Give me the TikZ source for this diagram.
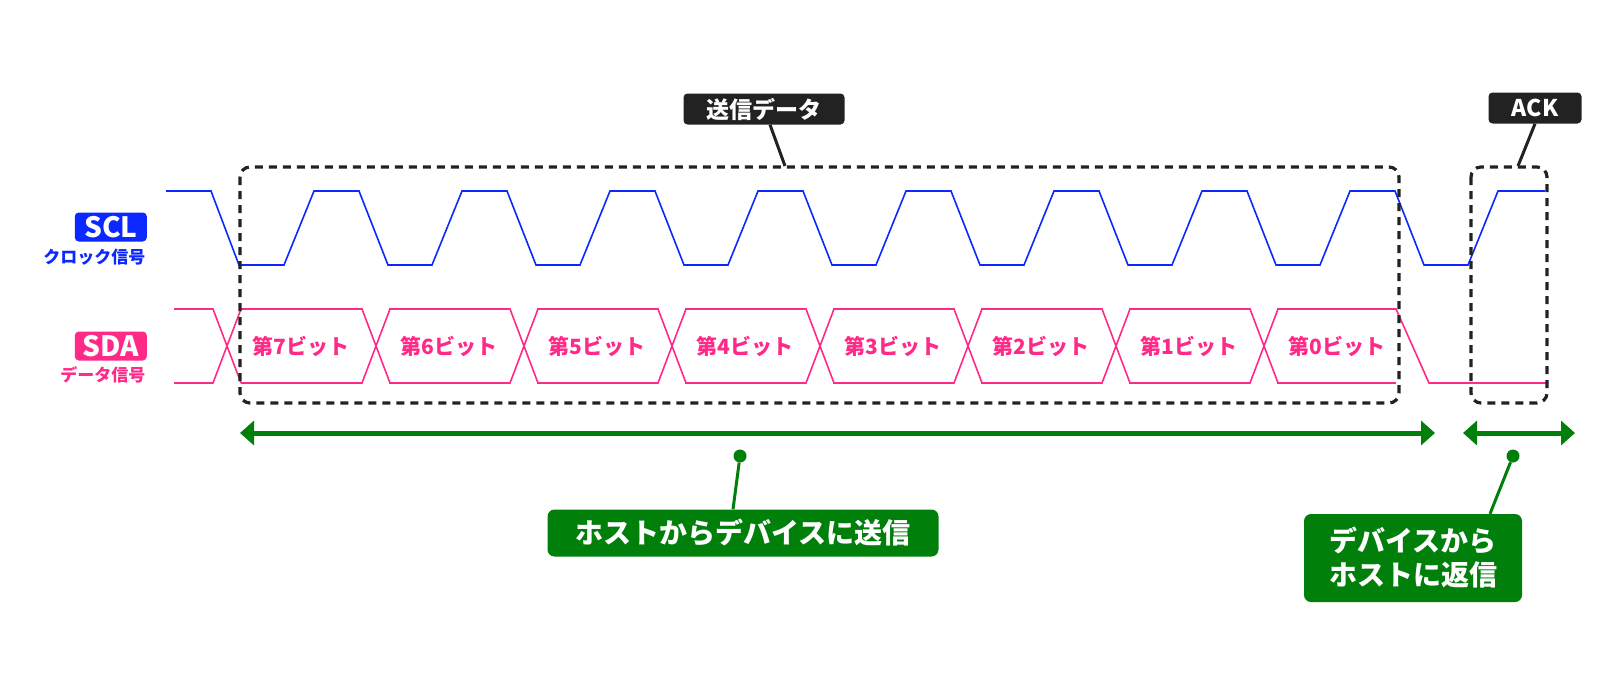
\documentclass[tikz,border=0pt]{standalone}
\usepackage{fontspec}
\setmainfont{Noto Sans CJK JP}
\usetikzlibrary{arrows.meta}
\definecolor{sclblue}{HTML}{0A28FF}
\definecolor{sdapink}{HTML}{FF2A88}
\definecolor{hostgreen}{HTML}{00800A}
\definecolor{tagdark}{HTML}{222222}
\tikzset{
  wave/.style={line width=1.6pt, line join=miter},
  group/.style={draw=tagdark, line width=3.2pt, dash pattern=on 8pt off 6pt, rounded corners=10pt},
  tag/.style={fill=tagdark, text=white, rounded corners=4pt, font=\fontsize{23}{26}\selectfont\bfseries},
  greenbox/.style={fill=hostgreen, text=white, rounded corners=7pt, font=\fontsize{28}{34}\selectfont\bfseries, align=center},
  flow/.style={hostgreen, line width=5pt, {Triangle[width=24pt,length=14pt]}-{Triangle[width=24pt,length=14pt]}},
  dot/.style={circle, fill=hostgreen, inner sep=0, minimum size=13pt},
  bitlabel/.style={text=sdapink, font=\fontsize{21}{24}\selectfont\bfseries},
  signame/.style={text=white, rounded corners=4pt, inner sep=2pt, minimum height=29pt, minimum width=72pt,
        font=\fontsize{28}{30}\selectfont\bfseries, anchor=east}
}
\begin{document}
\begin{tikzpicture}[x=1pt, y=-1pt]
  \useasboundingbox (0,0) rectangle (1624,696);

  % signal names
  \node (sclname) [signame, fill=sclblue] at (147,227) {SCL};
  \node (sclsub) [text=sclblue, font=\fontsize{17}{19}\selectfont\bfseries, anchor=east] at (149,257) {クロック信号};
  \node (sdaname) [signame, fill=sdapink] at (147,346) {SDA};
  \node (sdasub) [text=sdapink, font=\fontsize{17}{19}\selectfont\bfseries, anchor=east] at (149,375) {データ信号};

  % SCL waveform
  \draw [wave, sclblue] (166,191) -- (211,191) -- (239,265)
    \foreach \k in {0,...,7} { -- ({284+148*\k},265) -- ({314+148*\k},191) -- ({359+148*\k},191) -- ({388+148*\k},265) }
    -- (1468,265) -- (1498,191) -- (1545,191);

  % SDA waveform
  \draw [wave, sdapink] (174,309) -- (213,309) -- (241,383);
  \draw [wave, sdapink] (174,383) -- (213,383) -- (241,309);
  \foreach \k/\b in {0/7,1/6,2/5,3/4,4/3,5/2,6/1} {
    \draw [wave, sdapink] ({241+148*\k},309) -- ({362+148*\k},309) -- ({390+148*\k},383);
    \draw [wave, sdapink] ({241+148*\k},383) -- ({362+148*\k},383) -- ({390+148*\k},309);
    \node (bit\b) [bitlabel] at ({301+148*\k},346) {第\b ビット};
  }
  \draw [wave, sdapink] (1277,309) -- (1396,309) -- (1429,383) -- (1548,383);
  \draw [wave, sdapink] (1277,383) -- (1396,383);
  \node (bit0) [bitlabel] at (1337,346) {第0ビット};

  % groups
  \draw [group] (240,167) rectangle (1399,403);
  \draw [group] (1471,167) rectangle (1547,403);
  \coordinate (datatop) at (785,166);
  \coordinate (acktop) at (1518,166);
  \node (datatag) [tag, minimum width=161pt, minimum height=31pt] at (764,109) {送信データ};
  \node (acktag) [tag, minimum width=93pt, minimum height=31pt] at (1535,108) {ACK};
  \draw [tagdark, line width=3pt] (datatag.south) ++(6,0) -- (datatop);
  \draw [tagdark, line width=3pt] (acktag.south) -- (acktop);

  % directions
  \coordinate (hostl) at (240,433);
  \coordinate (hostr) at (1435,433);
  \coordinate (devl) at (1463,433);
  \coordinate (devr) at (1575,433);
  \draw [flow] (hostl) -- (hostr);
  \draw [flow] (devl) -- (devr);
  \node (hostdot) [dot] at (740,456) {};
  \node (devdot) [dot] at (1513,456) {};
  \node (hostbox) [greenbox, minimum width=391pt, minimum height=47pt] at (743,533) {ホストからデバイスに送信};
  \node (devbox) [greenbox, minimum width=218pt, minimum height=88pt, inner sep=4pt] at (1413,558) {デバイスから\\ホストに返信};
  \draw [hostgreen, line width=3pt] (hostdot) -- ([xshift=-10pt]hostbox.north);
  \draw [hostgreen, line width=3pt] (devdot) -- ([xshift=77pt]devbox.north);
\end{tikzpicture}
\end{document}
